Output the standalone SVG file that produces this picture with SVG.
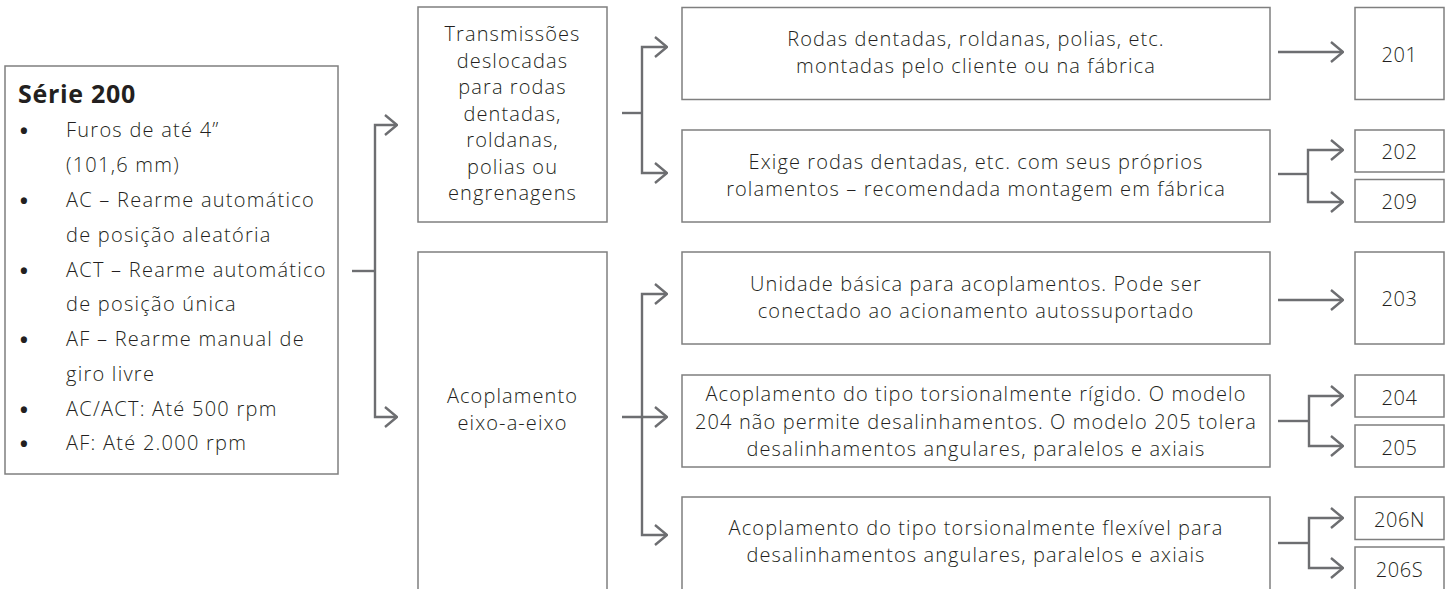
<svg xmlns="http://www.w3.org/2000/svg" width="1450" height="589" viewBox="0 0 1450 589">
<style>
  .box { fill: #ffffff; stroke: #7f7f7f; stroke-width: 1.5; }
  .t { font-family: "Open Sans", "Noto Sans", sans-serif; font-size: 20px; font-weight: 300; fill: #231f20; letter-spacing: 1.1px; }
  .l { letter-spacing: 1.25px; }
  .c { text-anchor: middle; }
  .b { font-family: "Open Sans", "Noto Sans", sans-serif; font-size: 22px; font-weight: 700; fill: #231f20; text-anchor: middle; }
  .num { font-family: "Open Sans", "Noto Sans", sans-serif; font-size: 20px; font-weight: 300; fill: #231f20; text-anchor: middle; letter-spacing: 0.6px; }
  .title { font-family: "Open Sans", "Noto Sans", sans-serif; font-size: 25px; font-weight: 700; fill: #231f20; letter-spacing: 0.7px; }
  .conn { fill: none; stroke: #6d6e71; stroke-width: 2.4; }
</style>
<defs>
  <marker id="arr" viewBox="0 0 14 22" refX="13" refY="11" markerWidth="14" markerHeight="22" markerUnits="userSpaceOnUse" orient="auto">
    <path d="M1,1 L13,11 L1,21" fill="none" stroke="#6d6e71" stroke-width="2.4"/>
  </marker>
</defs>
<rect width="1450" height="589" fill="#ffffff"/>

<g id="serie200">
  <rect class="box" x="5" y="66" width="333" height="408"/>
  <text class="title" x="18" y="103">Série 200</text>
  <text class="b" x="24" y="139">•</text>
  <text class="t l" x="66" y="137">Furos de até 4”</text>
  <text class="t l" x="66" y="172">(101,6 mm)</text>
  <text class="b" x="24" y="209">•</text>
  <text class="t l" x="66" y="207">AC – Rearme automático</text>
  <text class="t l" x="66" y="242">de posição aleatória</text>
  <text class="b" x="24" y="279">•</text>
  <text class="t l" x="66" y="277">ACT – Rearme automático</text>
  <text class="t l" x="66" y="311">de posição única</text>
  <text class="b" x="24" y="348">•</text>
  <text class="t l" x="66" y="346">AF – Rearme manual de</text>
  <text class="t l" x="66" y="381">giro livre</text>
  <text class="b" x="24" y="418">•</text>
  <text class="t l" x="66" y="416">AC/ACT: Até 500 rpm</text>
  <text class="b" x="24" y="452">•</text>
  <text class="t l" x="66" y="450">AF: Até 2.000 rpm</text>
</g>

<g id="transmissoes">
  <rect class="box" x="418" y="7" width="189" height="215"/>
  <text class="t c" x="512.5" y="41">Transmissões</text>
  <text class="t c" x="512.5" y="67.5">deslocadas</text>
  <text class="t c" x="512.5" y="94">para rodas</text>
  <text class="t c" x="512.5" y="120.5">dentadas,</text>
  <text class="t c" x="512.5" y="147">roldanas,</text>
  <text class="t c" x="512.5" y="173.5">polias ou</text>
  <text class="t c" x="512.5" y="200">engrenagens</text>
</g>

<g id="acoplamento">
  <rect class="box" x="418" y="252" width="189" height="345"/>
  <text class="t c" x="512.5" y="403">Acoplamento</text>
  <text class="t c" x="512.5" y="430">eixo-a-eixo</text>
</g>

<g id="rodas">
  <rect class="box" x="682" y="7.5" width="588" height="92"/>
  <text class="t c" x="976" y="46">Rodas dentadas, roldanas, polias, etc.</text>
  <text class="t c" x="976" y="73">montadas pelo cliente ou na fábrica</text>
</g>

<g id="exige">
  <rect class="box" x="682" y="130" width="588" height="92"/>
  <text class="t c" x="976" y="168.5">Exige rodas dentadas, etc. com seus próprios</text>
  <text class="t c" x="976" y="195.5">rolamentos – recomendada montagem em fábrica</text>
</g>

<g id="unidade">
  <rect class="box" x="682" y="252" width="588" height="92"/>
  <text class="t c" x="976" y="291">Unidade básica para acoplamentos. Pode ser</text>
  <text class="t c" x="976" y="318">conectado ao acionamento autossuportado</text>
</g>

<g id="rigido">
  <rect class="box" x="682" y="375" width="588" height="92"/>
  <text class="t c" x="976" y="401">Acoplamento do tipo torsionalmente rígido. O modelo</text>
  <text class="t c" x="976" y="428.5">204 não permite desalinhamentos. O modelo 205 tolera</text>
  <text class="t c" x="976" y="456">desalinhamentos angulares, paralelos e axiais</text>
</g>

<g id="flexivel">
  <rect class="box" x="682" y="497" width="588" height="100"/>
  <text class="t c" x="976" y="535">Acoplamento do tipo torsionalmente flexível para</text>
  <text class="t c" x="976" y="562">desalinhamentos angulares, paralelos e axiais</text>
</g>

<g id="n201">
  <rect class="box" x="1355" y="7.5" width="89" height="92"/>
  <text class="num" x="1399.5" y="62">201</text>
</g>
<g id="n202">
  <rect class="box" x="1355" y="130" width="89" height="42"/>
  <text class="num" x="1399.5" y="159">202</text>
</g>
<g id="n209">
  <rect class="box" x="1355" y="179.5" width="89" height="42.5"/>
  <text class="num" x="1399.5" y="209">209</text>
</g>
<g id="n203">
  <rect class="box" x="1355" y="252" width="89" height="92"/>
  <text class="num" x="1399.5" y="306">203</text>
</g>
<g id="n204">
  <rect class="box" x="1355" y="375" width="89" height="42"/>
  <text class="num" x="1399.5" y="405">204</text>
</g>
<g id="n205">
  <rect class="box" x="1355" y="425" width="89" height="42"/>
  <text class="num" x="1399.5" y="455">205</text>
</g>
<g id="n206N">
  <rect class="box" x="1355" y="497" width="89" height="42.5"/>
  <text class="num" x="1399.5" y="527">206N</text>
</g>
<g id="n206S">
  <rect class="box" x="1355" y="547" width="89" height="50"/>
  <text class="num" x="1399.5" y="577">206S</text>
</g>

<g id="connectors">
  <path class="conn" d="M352,271 H375"/>
  <path class="conn" d="M375,271 V125 H397" marker-end="url(#arr)"/>
  <path class="conn" d="M375,271 V417 H397" marker-end="url(#arr)"/>

  <path class="conn" d="M622,113 H642"/>
  <path class="conn" d="M642,113 V47 H667" marker-end="url(#arr)"/>
  <path class="conn" d="M642,113 V173 H667" marker-end="url(#arr)"/>

  <path class="conn" d="M622,417 H667" marker-end="url(#arr)"/>
  <path class="conn" d="M642,417 V294 H667" marker-end="url(#arr)"/>
  <path class="conn" d="M642,417 V535 H667" marker-end="url(#arr)"/>

  <path class="conn" d="M1278,52 H1343" marker-end="url(#arr)"/>

  <path class="conn" d="M1278,174 H1308"/>
  <path class="conn" d="M1308,174 V150 H1343" marker-end="url(#arr)"/>
  <path class="conn" d="M1308,174 V202 H1343" marker-end="url(#arr)"/>

  <path class="conn" d="M1278,300 H1343" marker-end="url(#arr)"/>

  <path class="conn" d="M1278,421 H1309"/>
  <path class="conn" d="M1309,421 V396 H1343" marker-end="url(#arr)"/>
  <path class="conn" d="M1309,421 V446 H1343" marker-end="url(#arr)"/>

  <path class="conn" d="M1278,543 H1309"/>
  <path class="conn" d="M1309,543 V518 H1343" marker-end="url(#arr)"/>
  <path class="conn" d="M1309,543 V568 H1343" marker-end="url(#arr)"/>
</g>
</svg>
